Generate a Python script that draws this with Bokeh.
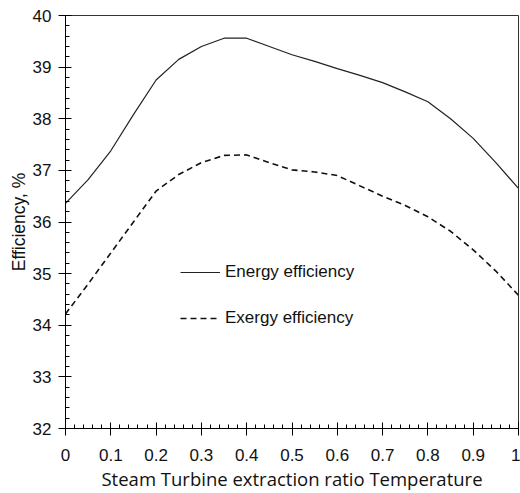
from bokeh.plotting import figure
from bokeh.embed import file_html
from bokeh.resources import INLINE
from bokeh.models import Range1d, FixedTicker, Legend, LegendItem

x_ratio = [0.0, 0.05, 0.1, 0.15, 0.2, 0.25, 0.3, 0.35, 0.4, 0.45, 0.5,
           0.55, 0.6, 0.65, 0.7, 0.75, 0.8, 0.85, 0.9, 0.95, 1.0]
energy_eff = [36.36, 36.82, 37.38, 38.08, 38.75, 39.15, 39.40, 39.56, 39.56, 39.40, 39.24,
              39.11, 38.97, 38.84, 38.70, 38.52, 38.33, 38.00, 37.62, 37.15, 36.65]
exergy_eff = [34.22, 34.80, 35.40, 36.00, 36.60, 36.92, 37.15, 37.29, 37.30, 37.15, 37.01,
              36.97, 36.90, 36.70, 36.50, 36.32, 36.10, 35.82, 35.46, 35.05, 34.58]

x_ticks = [0, 0.1, 0.2, 0.3, 0.4, 0.5, 0.6, 0.7, 0.8, 0.9, 1.0]
x_tick_labels = ["0", "0.1", "0.2", "0.3", "0.4", "0.5", "0.6", "0.7", "0.8", "0.9", "1"]
y_ticks = [32, 33, 34, 35, 36, 37, 38, 39, 40]

p = figure(width=520, height=493, output_backend="svg", toolbar_location=None,
           x_range=Range1d(0, 1), y_range=Range1d(32, 40),
           min_border_left=65, min_border_right=2, min_border_top=15, min_border_bottom=65)

p.xgrid.visible = False
p.ygrid.visible = False
p.background_fill_color = "white"
p.border_fill_color = "white"
p.outline_line_color = "#333333"
p.outline_line_width = 1

r1 = p.line(x_ratio, energy_eff, line_color="#222222", line_width=1.2)
r2 = p.line(x_ratio, exergy_eff, line_color="#111111", line_width=1.6, line_dash="6 4")

legend = Legend(items=[LegendItem(label="Energy efficiency", renderers=[r1]),
                       LegendItem(label="Exergy efficiency", renderers=[r2])],
                location=(115, 100), border_line_alpha=0, background_fill_alpha=0,
                label_text_font="Liberation Sans", label_text_font_size="17px",
                label_text_color="#111111", glyph_width=40, spacing=26,
                label_standoff=5, padding=0, margin=0)
p.add_layout(legend, "center")

for ax in (p.xaxis[0], p.yaxis[0]):
    ax.axis_line_color = "black"
    ax.major_tick_line_color = "black"
    ax.minor_tick_line_color = "black"
    ax.major_tick_in = 6
    ax.major_tick_out = 7
    ax.minor_tick_in = 4
    ax.minor_tick_out = 0
    ax.major_label_text_font = "Liberation Sans"
    ax.major_label_text_font_size = "17px"
    ax.major_label_text_color = "#111111"
    ax.axis_label_text_font_style = "normal"
    ax.axis_label_text_color = "#111111"

p.xaxis[0].ticker = FixedTicker(ticks=x_ticks,
                                minor_ticks=[i * 0.02 for i in range(51)])
p.xaxis[0].major_label_overrides = {t: l for t, l in zip(x_ticks, x_tick_labels)}
p.yaxis[0].ticker = FixedTicker(ticks=y_ticks,
                                minor_ticks=[32 + i * 0.2 for i in range(41)])

p.xaxis[0].axis_label = "Steam Turbine extraction ratio Temperature"
p.xaxis[0].axis_label_text_font = "Open Sans"
p.xaxis[0].axis_label_text_font_size = "18.5px"
p.xaxis[0].major_label_standoff = 13
p.xaxis[0].axis_label_standoff = 2

p.yaxis[0].axis_label = "Efficiency, %"
p.yaxis[0].axis_label_text_font = "Liberation Sans"
p.yaxis[0].axis_label_text_font_size = "17.5px"
p.yaxis[0].major_label_standoff = 7
p.yaxis[0].axis_label_standoff = 1

open("out.html", "w").write(file_html(p, INLINE))
